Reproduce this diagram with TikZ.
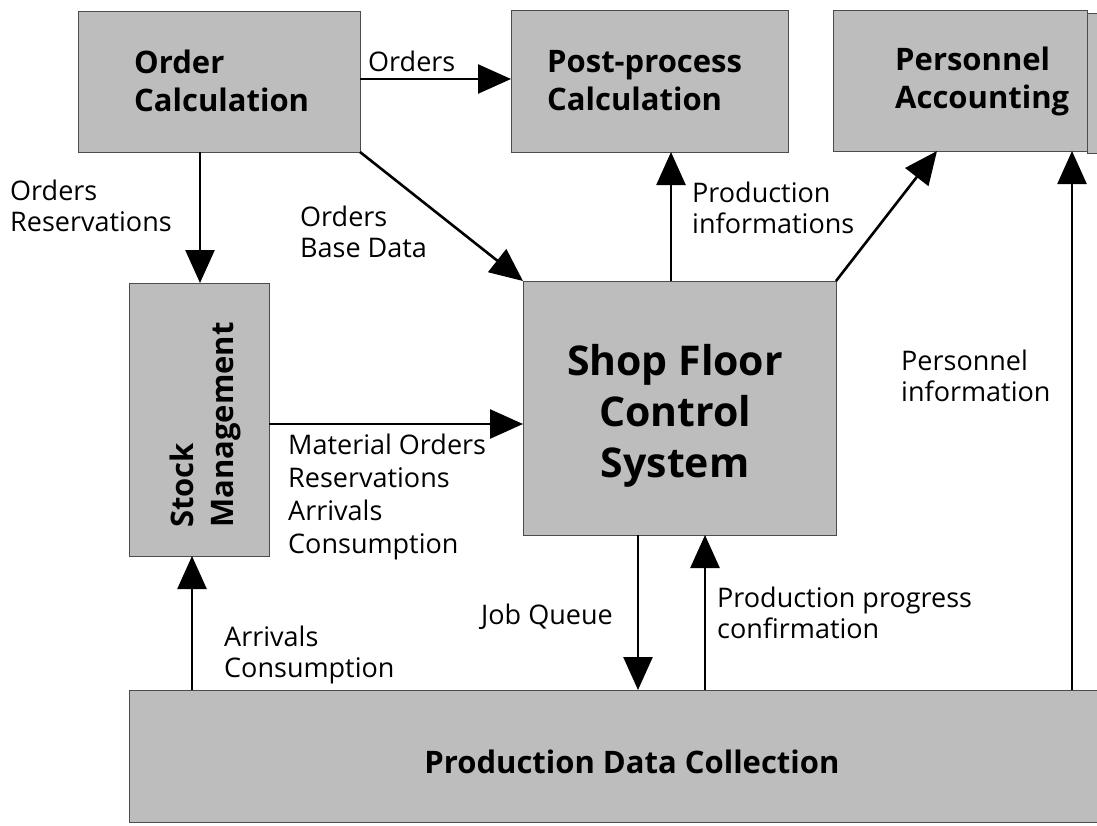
\documentclass[tikz,border=0pt]{standalone}
\usepackage{fontspec}
\setmainfont{Open Sans}
\usetikzlibrary{arrows.meta}
\definecolor{boxgray}{gray}{0.74}
\tikzset{
  box/.style={draw=black!70, line width=0.8pt, fill=boxgray, inner sep=0pt},
  flow/.style={line width=2.6pt, -{Triangle[length=33pt,width=29pt]}},
  lbl/.style={font=\fontsize{27}{31}\selectfont, align=left, inner sep=0pt, anchor=north west},
  ttl/.style={font=\fontsize{31}{38}\selectfont\bfseries, align=left, inner sep=0pt, anchor=west},
}
\begin{document}
\begin{tikzpicture}[x=1pt,y=-1pt]
\useasboundingbox (0,0) rectangle (1097,825);
% boxes
\draw[box] (78,11) rectangle (360,152);
\node[ttl] (octxt) at (134,81) {Order\\Calculation};
\draw[box] (511,10) rectangle (788,152);
\node[ttl] (pptxt) at (547,81) {Post-process\\Calculation};
\draw[box] (1087,13) rectangle (1099,153);
\draw[box] (833,10) rectangle (1087,151);
\node[ttl] (patxt) at (895,81) {Personnel\\Accounting};
\draw[box] (129,283) rectangle (269,556);
\node[font=\fontsize{31}{40}\selectfont\bfseries, align=left, inner sep=0pt, rotate=90, anchor=west] (smtxt) at (205,528) {Stock\\Management};
\draw[box] (523,281) rectangle (836,535);
\node[font=\fontsize{41}{51}\selectfont\bfseries, align=center, inner sep=0pt] (sftxt) at (675,416) {Shop Floor\\Control\\System};
\draw[box] (129,690) rectangle (1099,822);
\node[font=\fontsize{31}{36}\selectfont\bfseries, inner sep=0pt] (pdtxt) at (632,762) {Production Data Collection};
% connection points
\coordinate (ocE) at (360,79);
\coordinate (ppW) at (511,79);
\coordinate (ocB) at (200,152);
\coordinate (smT) at (200,283);
\coordinate (ocBR) at (360,152);
\coordinate (sfTL) at (523,281);
\coordinate (sfT) at (671,281);
\coordinate (ppB) at (671,152);
\coordinate (sfTR) at (836,281);
\coordinate (paB) at (937,151);
\coordinate (pdR) at (1072,690);
\coordinate (paBR) at (1072,151);
\coordinate (smE) at (269,424);
\coordinate (sfW) at (523,424);
\coordinate (sfB1) at (638,535);
\coordinate (pdT1) at (638,690);
\coordinate (pdT2) at (705,690);
\coordinate (sfB2) at (705,535);
\coordinate (pdT3) at (192,690);
\coordinate (smB) at (192,556);
% arrows
\draw[flow] (ocE) -- (ppW);
\draw[flow] (ocB) -- (smT);
\draw[flow] (ocBR) -- (sfTL);
\draw[flow] (sfT) -- (ppB);
\draw[flow] (sfTR) -- (paB);
\draw[flow] (pdR) -- (paBR);
\draw[flow] (smE) -- (sfW);
\draw[flow] (sfB1) -- (pdT1);
\draw[flow] (pdT2) -- (sfB2);
\draw[flow] (pdT3) -- (smB);
% labels
\node[lbl] (l1) at (368,51) {Orders};
\node[lbl] (l2) at (10,180) {Orders\\Reservations};
\node[lbl] (l3) at (300,206) {Orders\\Base Data};
\node[lbl] (l4) at (692,182) {Production\\informations};
\node[lbl] (l5) at (901,350) {Personnel\\information};
\node[lbl, font=\fontsize{27}{33}\selectfont] (l6) at (288,434) {Material Orders\\Reservations\\Arrivals\\Consumption};
\node[lbl] (l7) at (481,604) {Job Queue};
\node[lbl] (l8) at (717,587) {Production progress\\confirmation};
\node[lbl] (l9) at (224,626) {Arrivals\\Consumption};
\end{tikzpicture}
\end{document}
